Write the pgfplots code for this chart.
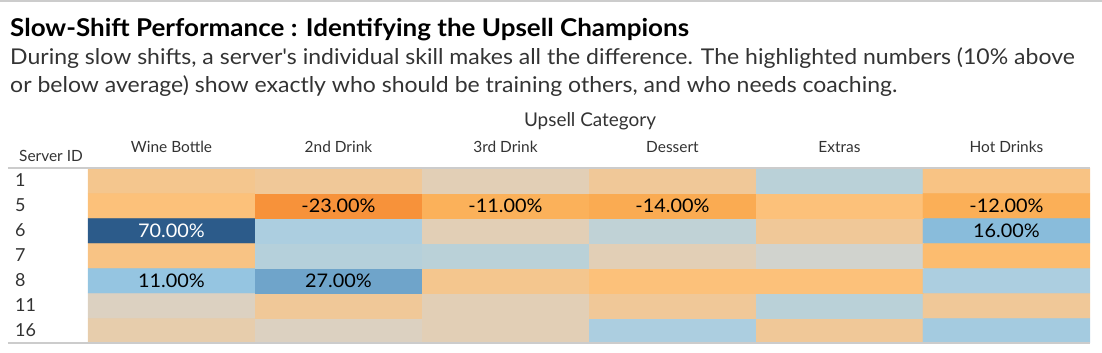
\documentclass[border=0pt]{standalone}
\usepackage{pgfplots}
\pgfplotsset{compat=1.18}
\usepackage{fontspec}
\setmainfont{Lato}
\newfontfamily\wide[FakeStretch=1.06]{Lato}
\definecolor{txt}{RGB}{51,51,51}
\definecolor{rule}{RGB}{204,204,204}
\pgfplotsset{
  colormap={ob}{
    rgb255(0pt)=(247,146,58)
    rgb255(9pt)=(250,171,82)
    rgb255(12pt)=(251,177,90)
    rgb255(15pt)=(252,193,122)
    rgb255(18pt)=(240,200,152)
    rgb255(21pt)=(226,207,182)
    rgb255(23pt)=(215,212,204)
    rgb255(28pt)=(186,209,216)
    rgb255(31pt)=(172,206,224)
    rgb255(34pt)=(149,197,225)
    rgb255(39pt)=(137,188,219)
    rgb255(50pt)=(111,164,202)
    rgb255(93pt)=(44,91,138)
  }
}
\begin{document}
\begin{tikzpicture}[x=1bp,y=1bp]
\path[use as bounding box] (0,0) rectangle (1102,352);
\draw[rule, line width=1.5bp] (0,351.2) -- (1102,351.2);
\node[anchor=base west, inner sep=0, font=\wide\fontsize{24.6}{28}\selectfont\bfseries, text=black] at (10,316) {Slow-Shift Performance : Identifying the Upsell Champions};
\node[anchor=base west, inner sep=0, font=\wide\fontsize{21.8}{24}\selectfont, text=txt] at (10,288) {During slow shifts, a server's individual skill makes all the difference. The highlighted numbers (10\% above};
\node[anchor=base west, inner sep=0, font=\wide\fontsize{21.8}{24}\selectfont, text=txt] at (10,260) {or below average) show exactly who should be training others, and who needs coaching.};
\node[anchor=base, inner sep=0, font=\fontsize{19}{22}\selectfont, text=txt] at (590,226) {Upsell Category};
\node[anchor=base west, inner sep=0, font=\fontsize{15.5}{18}\selectfont, text=txt] at (19,191) {Server ID};
\begin{axis}[
  at={(88bp,9bp)}, anchor=south west,
  scale only axis, width=1002bp, height=175bp,
  xmin=-0.5, xmax=5.5, ymin=-0.5, ymax=6.5,
  axis line style={draw=none},
  colormap name=ob,
  point meta min=-23, point meta max=70,
  xtick={0,...,5},
  xticklabels={Wine Bottle,2nd Drink,3rd Drink,Dessert,Extras,Hot Drinks},
  xticklabel pos=upper,
  xticklabel style={anchor=base, inner sep=0, yshift=16bp, font=\fontsize{15.5}{18}\selectfont, text=txt},
  ytick={0,...,6},
  yticklabels={16,11,8,7,6,5,1},
  yticklabel style={anchor=west, inner sep=0, xshift=-73bp, font=\fontsize{18}{20}\selectfont, text=txt},
  major tick length=0pt,
  tick style={draw=none},
  clip=false,
]
\addplot[matrix plot*, mesh/cols=6, point meta=explicit, draw=none] table[meta=v] {
x y v
0 0 -3
1 0 -1
2 0 -2
3 0 8
4 0 -5
5 0 9
0 1 -1
1 1 -5
2 1 -2
3 1 -5
4 1 5
5 1 -5
0 2 11
1 2 27
2 2 -6
3 2 -8
4 2 -8
5 2 8
0 3 -7
1 3 6
2 3 5
3 3 -2
4 3 1
5 3 -9
0 4 70
1 4 8
2 4 -2
3 4 4
4 4 -5
5 4 16
0 5 -8
1 5 -23
2 5 -11
3 5 -14
4 5 -8
5 5 -12
0 6 -6
1 6 -5
2 6 -2
3 6 -5
4 6 5
5 6 -7
};
\addplot[draw=none, mark=none, point meta=explicit symbolic,
  nodes near coords, nodes near coords align=center,
  every node near coord/.append style={anchor=center, inner sep=0, text=black, font=\wide\fontsize{18.8}{20}\selectfont}]
  table[meta=lab] {
x y lab
1 5 -23.00\%
2 5 -11.00\%
3 5 -14.00\%
5 5 -12.00\%
5 4 16.00\%
0 2 11.00\%
1 2 27.00\%
};
\addplot[draw=none, mark=none, point meta=explicit symbolic,
  nodes near coords, nodes near coords align=center,
  every node near coord/.append style={anchor=center, inner sep=0, text=white, font=\wide\fontsize{18.8}{20}\selectfont}]
  table[meta=lab] {
x y lab
0 4 70.00\%
};
\draw[rule, line width=1.2bp] (axis description cs:-0.08,1) -- (axis description cs:1,1);
\draw[rule, line width=1.2bp] (axis description cs:-0.08,0) -- (axis description cs:1,0);
\end{axis}
\end{tikzpicture}
\end{document}
